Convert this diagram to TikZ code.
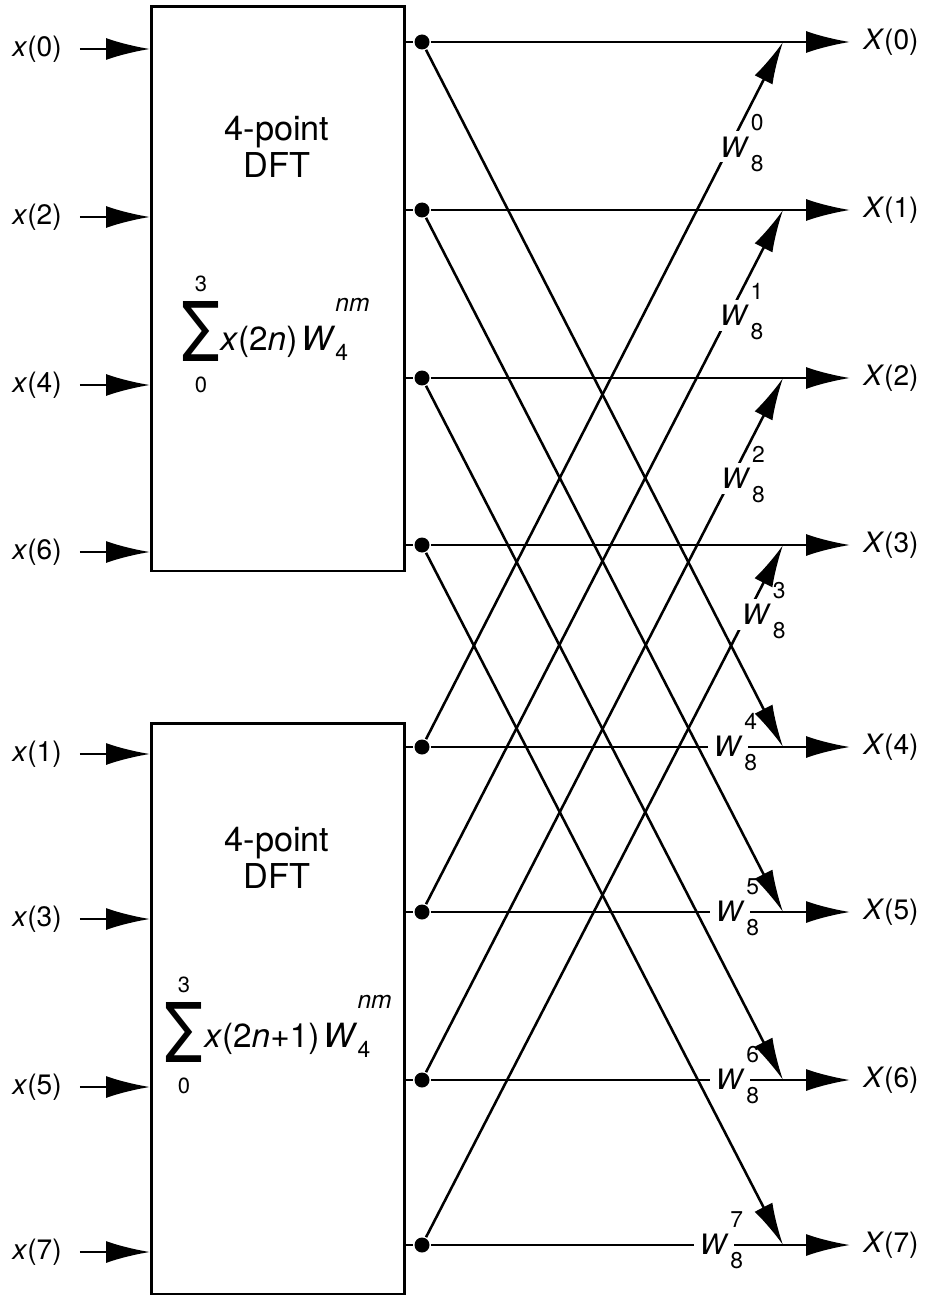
\documentclass[tikz,border=0pt]{standalone}
\usepackage{fontspec}
\setmainfont{TeX Gyre Heros}
\usepackage{graphicx}
\usetikzlibrary{arrows.meta,positioning,calc}
\newcommand{\digfont}{\fontsize{13}{13}\selectfont}
\newcommand{\twid}[1]{{\setlength{\fboxsep}{3pt}\colorbox{white}{\textit{W}}}\kern-2pt\rlap{\raisebox{15pt}{\digfont #1}}\raisebox{-8pt}{\digfont 8}}
\newcommand{\wsum}[2]{\textit{W}\rlap{\raisebox{22pt}{\fontsize{14}{14}\selectfont #1}}\raisebox{-6pt}{\fontsize{13}{13}\selectfont #2}}

\begin{document}
\begin{tikzpicture}[x=0.02cm,y=-0.02cm,line width=1.45pt,
    font=\fontsize{16}{18}\selectfont,
    dftbox/.style={draw,anchor=north west,inner sep=0,minimum width=5.06cm},
    boxtext/.style={align=center,font=\fontsize{19.5}{21}\selectfont},
    dot/.style={circle,fill,inner sep=0,minimum size=0.3cm},
    bigtip/.style={-{Latex[length=0.88cm,width=0.44cm]}},
    diagtip/.style={-{Latex[length=0.85cm,width=0.4cm]}},
    inlabel/.style={anchor=east,inner sep=0},
    outlabel/.style={anchor=west,inner sep=0},
    limit/.style={inner sep=0,font=\fontsize{12.5}{12.5}\selectfont},
    twiddle/.style={inner sep=0,font=\fontsize{16}{16}\selectfont}]
    \useasboundingbox (0,0) rectangle (932,1297);
    % the two 4-point DFT blocks
    \node[dftbox,minimum height=11.3cm] (evenbox) at (150,5) {};
    \node[dftbox,minimum height=11.42cm] (oddbox) at (150,722) {};
    \node[boxtext] (evenname) at (277,147) {4-point\\DFT};
    \node[boxtext] (oddname) at (277,858) {4-point\\DFT};
    \node[inner sep=0] (evensig) at (201,331) {\resizebox{0.78cm}{1.2cm}{Σ}};
    \node[limit,above=0.14cm of evensig] (evenhi) {3};
    \node[limit,below=0.26cm of evensig] (evenlo) {0};
    \node[anchor=base west,inner sep=0,font=\fontsize{19}{19}\selectfont] (evensum) at (219,350)
        {\textit{x}(2\textit{n})\hspace{2pt}\wsum{\textit{nm}}{4}};
    \node[inner sep=0] (oddsig) at (184,1032) {\resizebox{0.78cm}{1.2cm}{Σ}};
    \node[limit,above=0.14cm of oddsig] (oddhi) {3};
    \node[limit,below=0.26cm of oddsig] (oddlo) {0};
    \node[anchor=base west,inner sep=0,font=\fontsize{19}{19}\selectfont] (oddsum) at (203,1047)
        {\textit{x}(2\textit{n}+1)\hspace{2pt}\wsum{\textit{nm}}{4}};
    % inputs, dots and outputs
    \foreach \k/\y/\n/\b in {0/42/0/evenbox,1/210/2/evenbox,2/378/4/evenbox,3/545/6/evenbox,
                            4/747/1/oddbox,5/912/3/oddbox,6/1080/5/oddbox,7/1245/7/oddbox}{
        \node[dot] (d\k) at (422,\y) {};
        \coordinate (t\k) at (783,\y);
        \node[outlabel] (out\k) at (862,\y) {\textit{X}(\k)};
        \node[inlabel] (in\k) at (63,{\y+7}) {\textit{x}(\n)};
        \draw[bigtip,shorten <=0.34cm] (in\k.east) -- (in\k.east -| \b.west);
        \draw (d\k -| \b.east) -- (d\k);
        \draw[bigtip,shorten >=0.24cm] (d\k) -- (out\k.west);
    }
    % butterflies
    \foreach \a/\b in {0/4,1/5,2/6,3/7}
        \draw[diagtip] (d\a) -- (t\b);
    \foreach \a/\b/\p/\s in {4/0/0.855/0.16,5/1/0.854/0.16,6/2/0.861/0.14,7/3/0.905/0.24}
        \draw[diagtip] (d\a) -- (t\b) node[twiddle,pos=\p,xshift=\s cm] (w\b) {\twid{\b}};
    \foreach \k/\dx in {4/285,5/287,6/287,7/271}
        \node[twiddle,anchor=base west] (w\k) at ($(d\k)+(\dx,9)$) {\twid{\k}};
\end{tikzpicture}
\end{document}
